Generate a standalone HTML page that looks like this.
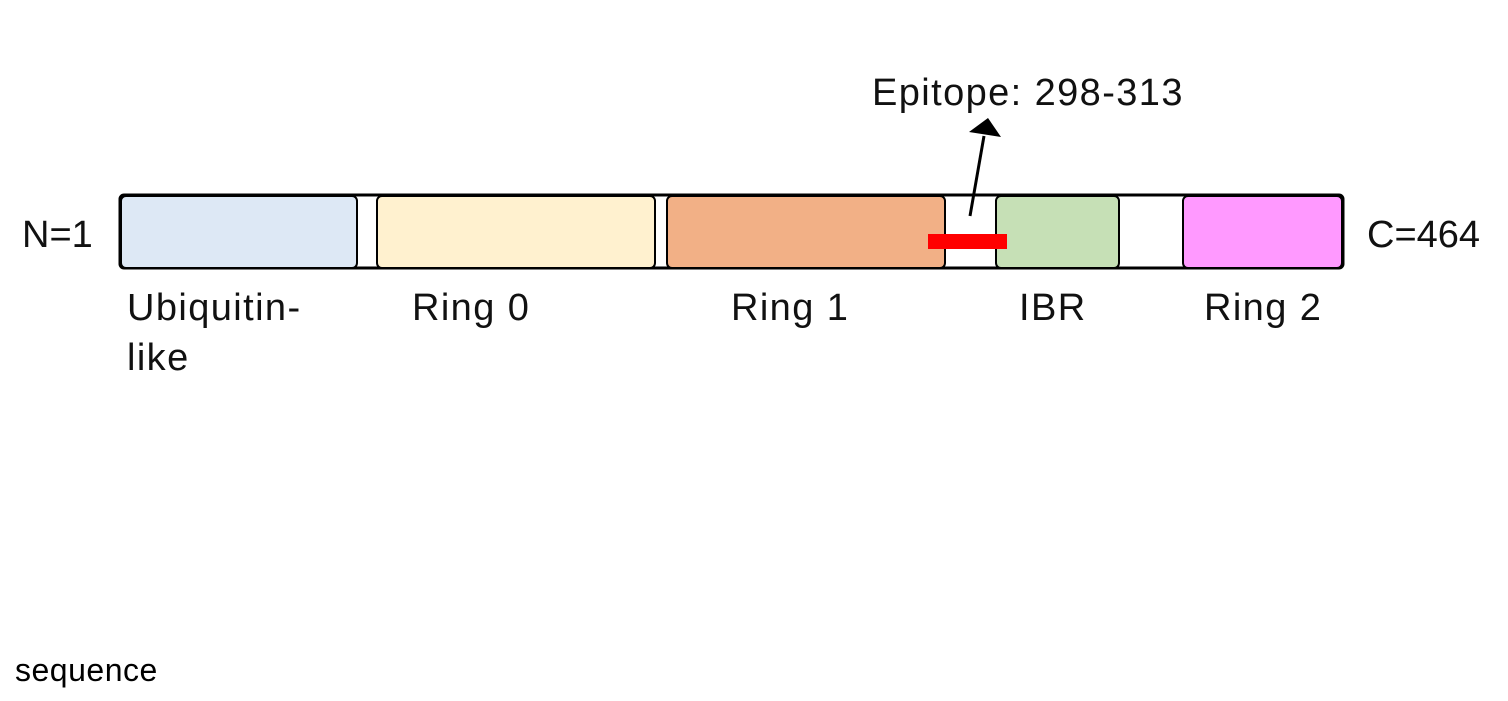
<!DOCTYPE html>
<html><head><style>
body{margin:0;width:1508px;height:701px;background:#fff;position:relative;overflow:hidden;font-family:"Liberation Sans",sans-serif;}
.t{position:absolute;font-size:38px;color:#111;font-weight:normal;line-height:1;white-space:nowrap;letter-spacing:1.4px}
</style></head><body>
<svg width="1508" height="701" style="position:absolute;left:0;top:0">
<rect x="120" y="195" width="1223" height="73" rx="4" fill="#fff" stroke="#000" stroke-width="3"/>
<rect x="121" y="196" width="236" height="72" rx="5" fill="#dde8f5" stroke="#000" stroke-width="2"/>
<rect x="377" y="196" width="278" height="72" rx="5" fill="#fff1cf" stroke="#000" stroke-width="2"/>
<rect x="667" y="196" width="278" height="72" rx="5" fill="#f2b086" stroke="#000" stroke-width="2"/>
<rect x="996" y="196" width="123" height="72" rx="5" fill="#c6e0b6" stroke="#000" stroke-width="2"/>
<rect x="1183" y="196" width="159" height="72" rx="5" fill="#ff99ff" stroke="#000" stroke-width="2"/>
<rect x="928" y="234" width="79" height="15" fill="#ff0000"/>
<line x1="970" y1="216" x2="984" y2="136" stroke="#000" stroke-width="3"/>
<polygon points="988,118 1001,137 969,132" fill="#000"/>
</svg>
<div class="t" style="left:872px;top:74px">Epitope: 298-313</div>
<div class="t" style="left:22px;top:216px;letter-spacing:0">N=1</div>
<div class="t" style="left:1367px;top:216px;letter-spacing:0">C=464</div>
<div class="t" style="left:127px;top:289px">Ubiquitin-</div>
<div class="t" style="left:127px;top:339px">like</div>
<div class="t" style="left:412px;top:289px">Ring 0</div>
<div class="t" style="left:731px;top:289px">Ring 1</div>
<div class="t" style="left:1019px;top:289px">IBR</div>
<div class="t" style="left:1204px;top:289px">Ring 2</div>
<div style="position:absolute;left:15px;top:652px;font-size:32px;font-family:'Liberation Sans',sans-serif;letter-spacing:0.5px">sequence</div>
</body></html>
